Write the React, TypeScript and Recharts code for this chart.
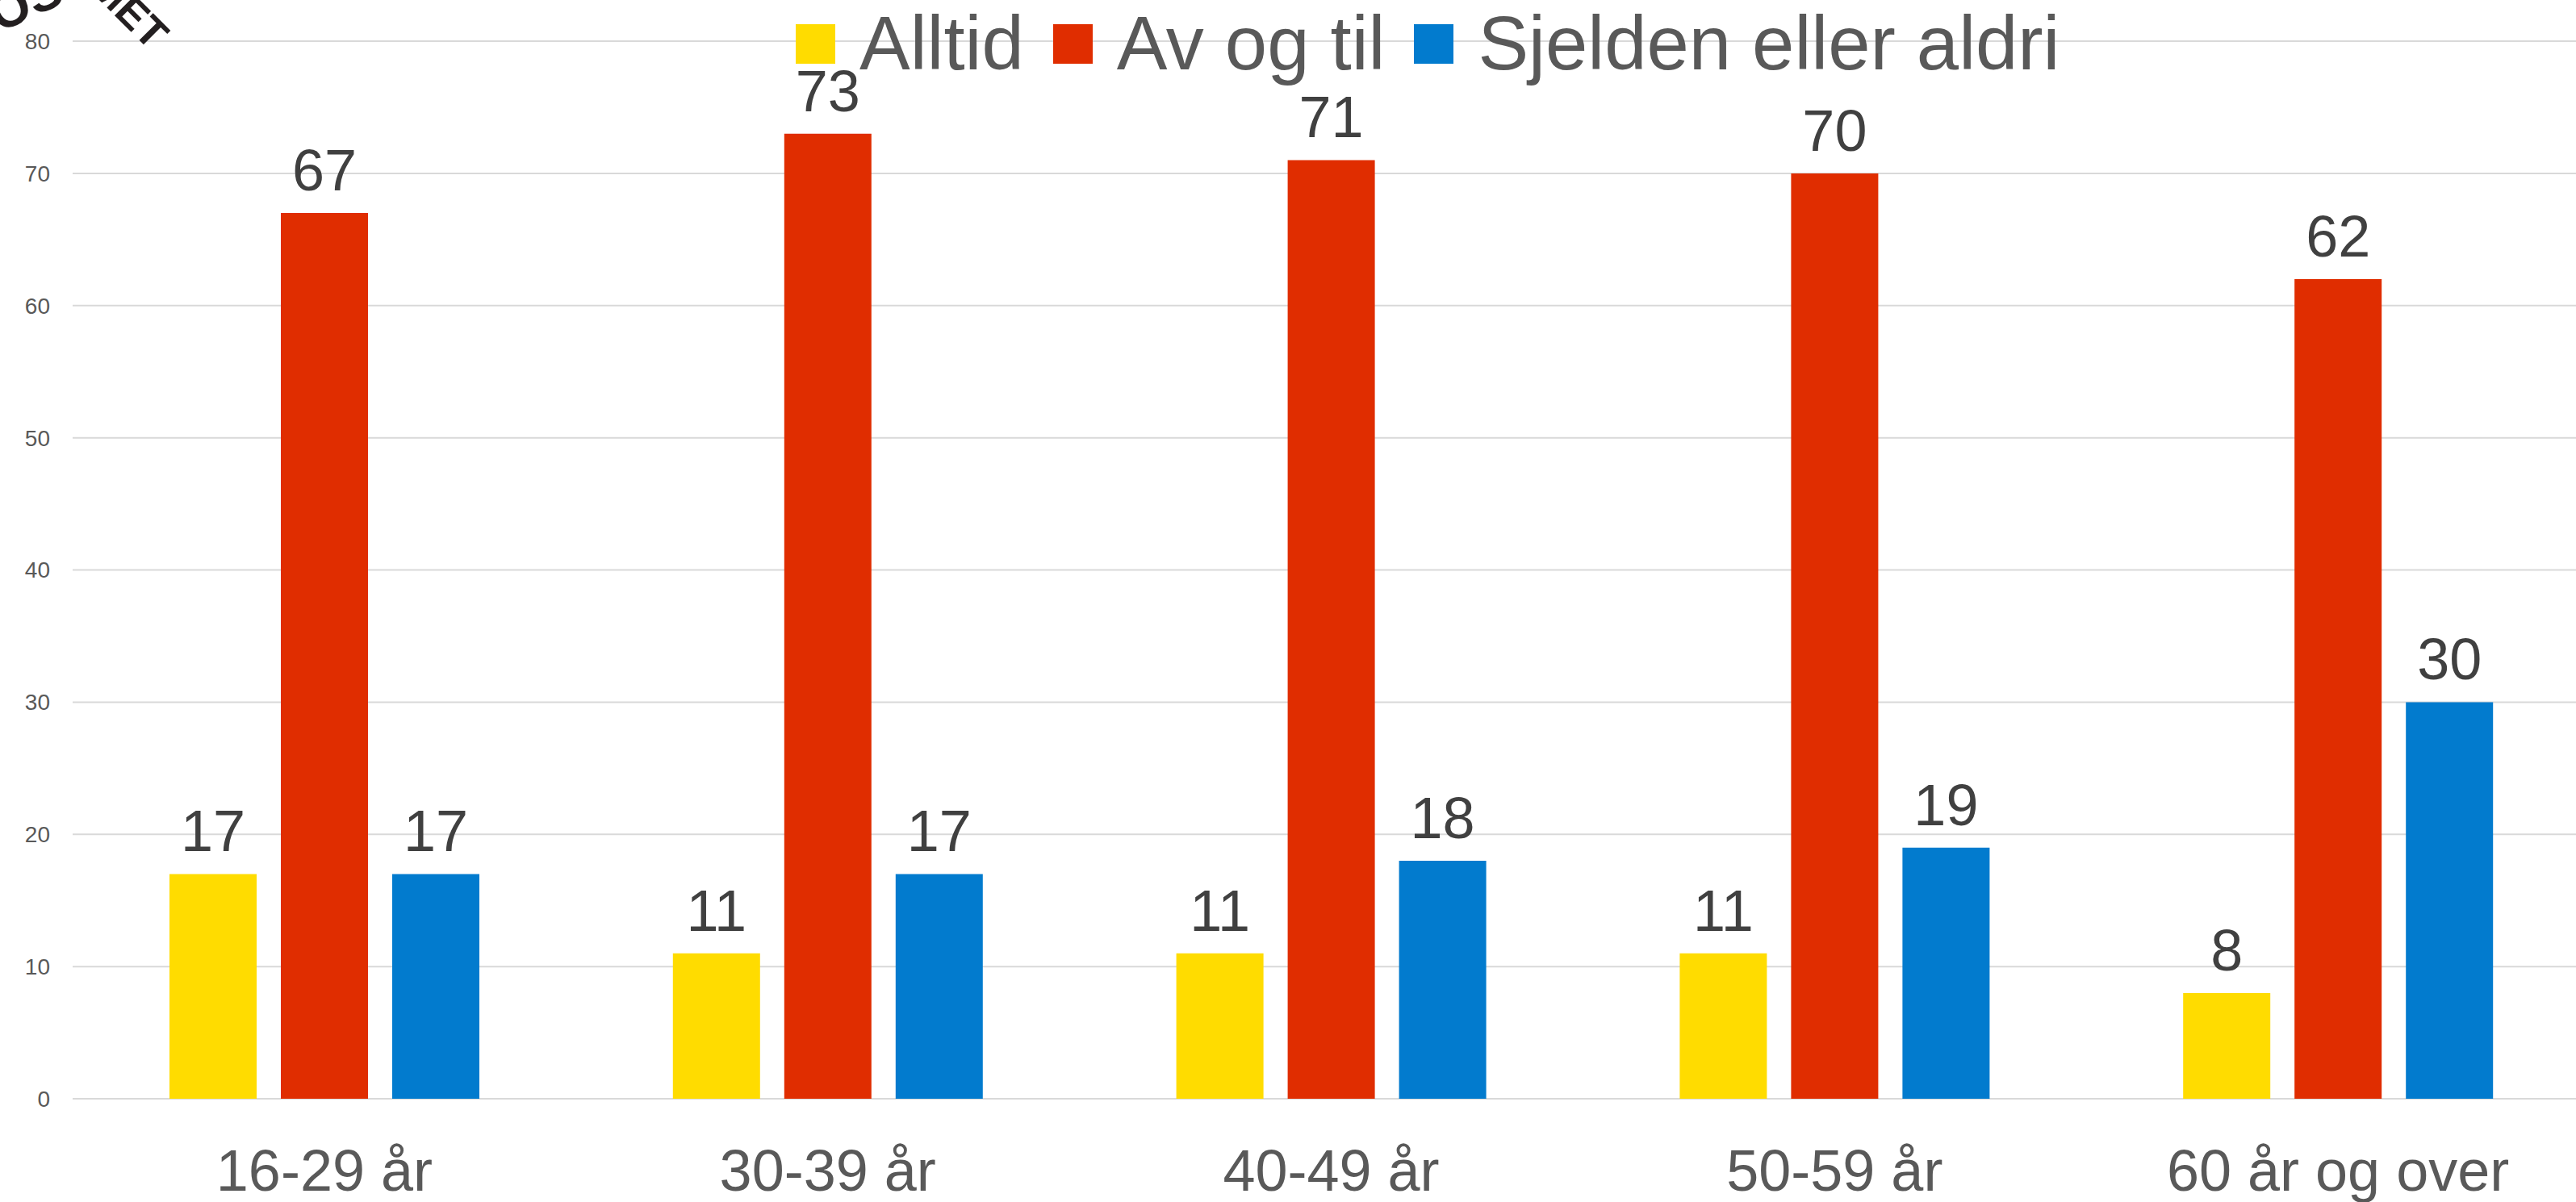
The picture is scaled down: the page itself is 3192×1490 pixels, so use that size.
import React from 'react'
import { BarChart, Bar, XAxis, YAxis, CartesianGrid, Legend, LabelList } from 'recharts'

const categories = ['16-29 år', '30-39 år', '40-49 år', '50-59 år', '60 år og over']
const alltid = [17, 11, 11, 11, 8]
const avOgTil = [67, 73, 71, 70, 62]
const sjelden = [17, 17, 18, 19, 30]
const yTicks = [0, 10, 20, 30, 40, 50, 60, 70, 80]

const series = [
  { key: 'alltid', name: 'Alltid', color: '#FFDC00' },
  { key: 'avOgTil', name: 'Av og til', color: '#E02D00' },
  { key: 'sjelden', name: 'Sjelden eller aldri', color: '#027BCE' }
]

const data = categories.map((name, i) => ({
  name,
  alltid: alltid[i],
  avOgTil: avOgTil[i],
  sjelden: sjelden[i]
}))

const font = '"Liberation Sans", Arial, sans-serif'

function LegendContent(): React.JSX.Element {
  return (
    <div style={{ display: 'flex', alignItems: 'center', fontFamily: font, fontSize: 94, lineHeight: 1, color: '#595959' }}>
      {series.map((s) => (
        <div key={s.key} style={{ display: 'flex', alignItems: 'center', marginRight: 36 }}>
          <span style={{ width: 49, height: 49, background: s.color, display: 'inline-block', marginRight: 30 }} />
          <span>{s.name}</span>
        </div>
      ))}
    </div>
  )
}

export default function App(): React.JSX.Element {
  return (
    <div style={{ position: 'fixed', left: 0, top: 0, width: 3192, height: 1490, overflow: 'hidden', background: '#fff' }}>
      <BarChart
        width={3210}
        height={1490}
        data={data}
        margin={{ top: 51, right: 1, bottom: 0, left: 0 }}
        barSize={108}
        barGap={30}
      >
        <CartesianGrid vertical={false} stroke="#D9D9D9" strokeWidth={2} />
        <XAxis
          dataKey="name"
          height={128}
          axisLine={false}
          tickLine={false}
          tickSize={0}
          tickMargin={63}
          tick={{ fontSize: 72, fill: '#595959', fontFamily: font }}
        />
        <YAxis
          width={90}
          domain={[0, 80]}
          ticks={yTicks}
          axisLine={false}
          tickLine={false}
          tickSize={0}
          tickMargin={28}
          tick={{ fontSize: 28, fill: '#595959', fontFamily: font }}
        />
        <Legend
          verticalAlign="top"
          align="left"
          content={<LegendContent />}
          wrapperStyle={{ top: 7, left: 986, width: 2000, height: 0, overflow: 'visible' }}
        />
        {series.map((s) => (
          <Bar key={s.key} dataKey={s.key} name={s.name} fill={s.color} isAnimationActive={false}>
            <LabelList
              dataKey={s.key}
              position="top"
              offset={28}
              style={{ fontSize: 72, fill: '#404040', fontFamily: font }}
            />
          </Bar>
        ))}
      </BarChart>
      <div
        style={{
          position: 'absolute',
          left: -24,
          top: -8,
          fontFamily: font,
          fontWeight: 700,
          fontSize: 64,
          color: '#231F20',
          transform: 'rotate(-25deg)',
          transformOrigin: 'left top',
          lineHeight: 1
        }}
      >
        OS
      </div>
      <div
        style={{
          position: 'absolute',
          left: 140,
          top: -45,
          fontFamily: font,
          fontWeight: 700,
          fontSize: 52,
          color: '#231F20',
          transform: 'rotate(45deg)',
          transformOrigin: 'left top',
          lineHeight: 1
        }}
      >
        MET
      </div>
    </div>
  )
}
